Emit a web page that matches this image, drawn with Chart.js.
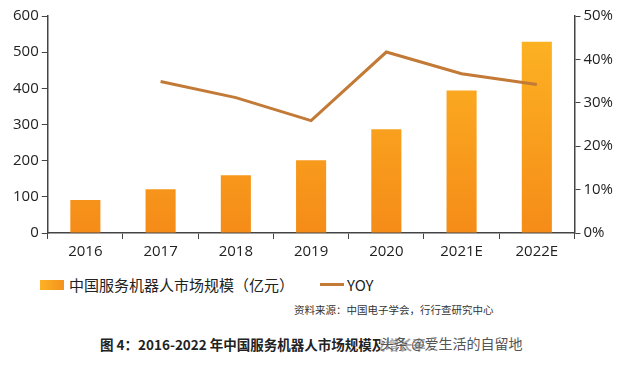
<!DOCTYPE html>
<html>
<head>
<meta charset="utf-8">
<script src="https://cdn.jsdelivr.net/npm/chart.js@4"></script>
<style>
  body { margin: 0; background: #fff; font-family: "Noto Sans CJK SC", "Open Sans", sans-serif; }
  #wrap { position: relative; width: 626px; height: 365px; overflow: hidden; }
  #chartBox { position: absolute; left: 0; top: 0; width: 626px; height: 265px; }
  .legend { position: absolute; top: 274px; left: 40px; font-size: 15px; color: #222; display: flex; align-items: center; }
  .sw-bar { display: inline-block; width: 24px; height: 10px; background: linear-gradient(90deg, #fdb227, #f3921c); margin-right: 5px; }
  .sw-line { display: inline-block; width: 24px; height: 3px; background: #c37a36; margin: 0 3px 0 26px; }
  .source { position: absolute; top: 302px; left: 294px; font-size: 10.5px; color: #333; }
  .title { position: absolute; top: 334px; left: 100px; font-size: 13.5px; font-weight: bold; color: #222; }
  .wm { position: absolute; top: 333px; left: 380px; font-size: 14px; color: #555; background: rgba(255,255,255,0.6); }
</style>
</head>
<body>
<div id="wrap">
  <div id="chartBox"><canvas id="c"></canvas></div>
  <div class="legend"><span class="sw-bar"></span>中国服务机器人市场规模（亿元）<span class="sw-line"></span>YOY</div>
  <div class="source">资料来源：中国电子学会，行行查研究中心</div>
  <div class="title">图 4：2016-2022 年中国服务机器人市场规模及增长率</div>
  <div class="wm">头条 @爱生活的自留地</div>
</div>
<script>
const YEARS  = ['2016', '2017', '2018', '2019', '2020', '2021E', '2022E'];
const MARKET = [91, 121, 160, 201, 287, 394, 529];          // 亿元
const YOY    = [null, 34.9, 31.2, 25.9, 41.7, 36.7, 34.2];  // %

const AXIS = '#444';
const TICK_FONT = { family: 'Open Sans, sans-serif', size: 15 };

function barFill(ctx) {
  const area = ctx.chart.chartArea;
  if (!area) return '#f9a21f';
  const g = ctx.chart.ctx.createLinearGradient(0, area.top, 0, area.bottom);
  g.addColorStop(0, '#fdb624');
  g.addColorStop(1, '#f58c18');
  return g;
}

new Chart(document.getElementById('c'), {
  data: {
    labels: YEARS,
    datasets: [
      {
        type: 'line', data: YOY, yAxisID: 'y2',
        borderColor: '#c37a36', borderWidth: 3, pointRadius: 0,
        tension: 0, order: 0,
      },
      {
        type: 'bar', data: MARKET, yAxisID: 'y',
        backgroundColor: barFill, barPercentage: 0.4, categoryPercentage: 1,
        order: 1,
      },
    ],
  },
  options: {
    responsive: true, maintainAspectRatio: false, animation: false,
    layout: { padding: { top: 16, right: 10, left: 10 } },
    plugins: { legend: { display: false }, tooltip: { enabled: false } },
    scales: {
      x: {
        offset: true,
        grid: { display: true, drawOnChartArea: false, offset: true, tickLength: 6, color: AXIS },
        border: { color: AXIS, width: 1.5 },
        ticks: { color: '#222', font: TICK_FONT, padding: 4 },
      },
      y: {
        position: 'left', min: 0, max: 600,
        grid: { drawOnChartArea: false, tickLength: 6, color: AXIS },
        border: { color: AXIS, width: 1.5 },
        ticks: { stepSize: 100, color: '#222', font: TICK_FONT, padding: 3 },
      },
      y2: {
        position: 'right', min: 0, max: 50,
        grid: { drawOnChartArea: false, tickLength: 6, color: AXIS },
        border: { color: AXIS, width: 1.5 },
        ticks: { stepSize: 10, color: '#222', font: TICK_FONT, padding: 3, callback: v => v + '%' },
      },
    },
  },
});
</script>
</body>
</html>
